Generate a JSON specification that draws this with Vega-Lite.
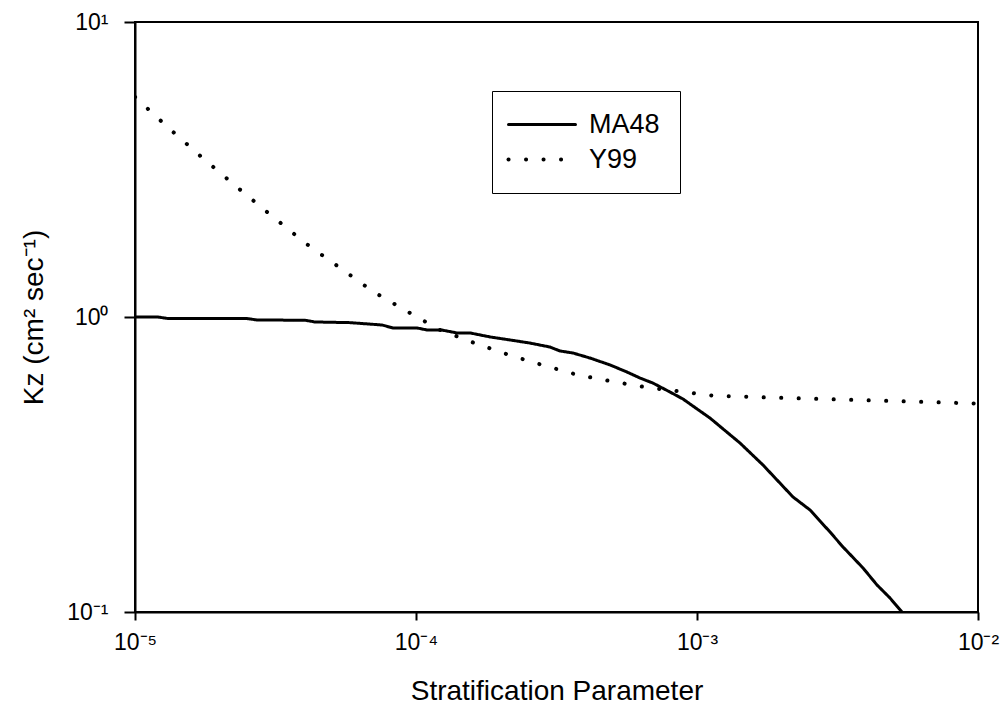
{
  "$schema": "https://vega.github.io/schema/vega-lite/v6.json",
  "width": 843,
  "height": 590,
  "autosize": "none",
  "padding": {"left": 135, "top": 22, "right": 26, "bottom": 101},
  "background": "white",
  "config": {
    "font": "Liberation Sans",
    "view": {"stroke": "black", "strokeWidth": 2},
    "axis": {
      "grid": false,
      "domainColor": "black",
      "domainWidth": 2,
      "tickColor": "black",
      "tickWidth": 2,
      "labelColor": "black",
      "labelFont": "Liberation Sans",
      "labelFontSize": 23,
      "titleColor": "black",
      "titleFont": "Liberation Sans",
      "titleFontSize": 28,
      "titleFontWeight": "normal",
      "labelFlush": false,
      "labelOverlap": false
    }
  },
  "data": {
    "values": [
      {"series": "MA48", "x": 1e-5, "y": 1.0},
      {"series": "MA48", "x": 1.208e-5, "y": 1.0},
      {"series": "MA48", "x": 1.31e-5, "y": 0.988},
      {"series": "MA48", "x": 2.504e-5, "y": 0.988},
      {"series": "MA48", "x": 2.72e-5, "y": 0.977},
      {"series": "MA48", "x": 4.03e-5, "y": 0.975},
      {"series": "MA48", "x": 4.37e-5, "y": 0.962},
      {"series": "MA48", "x": 5.82e-5, "y": 0.957},
      {"series": "MA48", "x": 7.57e-5, "y": 0.9395},
      {"series": "MA48", "x": 8.28e-5, "y": 0.918},
      {"series": "MA48", "x": 1.008e-4, "y": 0.918},
      {"series": "MA48", "x": 1.10e-4, "y": 0.903},
      {"series": "MA48", "x": 1.237e-4, "y": 0.903},
      {"series": "MA48", "x": 1.40e-4, "y": 0.883},
      {"series": "MA48", "x": 1.557e-4, "y": 0.883},
      {"series": "MA48", "x": 1.834e-4, "y": 0.856},
      {"series": "MA48", "x": 2.16e-4, "y": 0.836},
      {"series": "MA48", "x": 2.544e-4, "y": 0.816},
      {"series": "MA48", "x": 2.998e-4, "y": 0.791},
      {"series": "MA48", "x": 3.255e-4, "y": 0.767},
      {"series": "MA48", "x": 3.62e-4, "y": 0.755},
      {"series": "MA48", "x": 4.16e-4, "y": 0.726},
      {"series": "MA48", "x": 4.90e-4, "y": 0.688},
      {"series": "MA48", "x": 5.63e-4, "y": 0.651},
      {"series": "MA48", "x": 6.27e-4, "y": 0.621},
      {"series": "MA48", "x": 6.97e-4, "y": 0.597},
      {"series": "MA48", "x": 8.01e-4, "y": 0.557},
      {"series": "MA48", "x": 8.92e-4, "y": 0.527},
      {"series": "MA48", "x": 1.0e-3, "y": 0.488},
      {"series": "MA48", "x": 1.112e-3, "y": 0.4545},
      {"series": "MA48", "x": 1.422e-3, "y": 0.374},
      {"series": "MA48", "x": 1.717e-3, "y": 0.315},
      {"series": "MA48", "x": 2.196e-3, "y": 0.2454},
      {"series": "MA48", "x": 2.525e-3, "y": 0.2217},
      {"series": "MA48", "x": 2.974e-3, "y": 0.1867},
      {"series": "MA48", "x": 3.308e-3, "y": 0.1661},
      {"series": "MA48", "x": 3.898e-3, "y": 0.141},
      {"series": "MA48", "x": 4.37e-3, "y": 0.1235},
      {"series": "MA48", "x": 4.86e-3, "y": 0.1116},
      {"series": "MA48", "x": 5.36e-3, "y": 0.1},
      {"series": "Y99", "x": 1e-5, "y": 5.57},
      {"series": "Y99", "x": 1.321e-5, "y": 4.36},
      {"series": "Y99", "x": 1.746e-5, "y": 3.45},
      {"series": "Y99", "x": 2.31e-5, "y": 2.753},
      {"series": "Y99", "x": 3.05e-5, "y": 2.212},
      {"series": "Y99", "x": 4.05e-5, "y": 1.777},
      {"series": "Y99", "x": 5.33e-5, "y": 1.474},
      {"series": "Y99", "x": 7.05e-5, "y": 1.218},
      {"series": "Y99", "x": 9.34e-5, "y": 1.042},
      {"series": "Y99", "x": 1.217e-4, "y": 0.904},
      {"series": "Y99", "x": 1.626e-4, "y": 0.814},
      {"series": "Y99", "x": 2.157e-4, "y": 0.742},
      {"series": "Y99", "x": 2.838e-4, "y": 0.686},
      {"series": "Y99", "x": 3.75e-4, "y": 0.637},
      {"series": "Y99", "x": 4.97e-4, "y": 0.605},
      {"series": "Y99", "x": 6.57e-4, "y": 0.578},
      {"series": "Y99", "x": 8.70e-4, "y": 0.559},
      {"series": "Y99", "x": 1.143e-3, "y": 0.541},
      {"series": "Y99", "x": 1.736e-3, "y": 0.534},
      {"series": "Y99", "x": 3.03e-3, "y": 0.526},
      {"series": "Y99", "x": 5.35e-3, "y": 0.518},
      {"series": "Y99", "x": 1e-2, "y": 0.509}
    ]
  },
  "encoding": {
    "x": {
      "field": "x",
      "type": "quantitative",
      "scale": {"type": "log", "domain": [1e-5, 1e-2], "nice": false},
      "axis": {
        "values": [1e-5, 1e-4, 1e-3, 1e-2],
        "labelExpr": "datum.value < 5e-5 ? '10⁻⁵' : datum.value < 5e-4 ? '10⁻⁴' : datum.value < 5e-3 ? '10⁻³' : '10⁻²'",
        "tickSize": 8,
        "labelPadding": 11,
        "title": "Stratification Parameter",
        "titlePadding": 23
      }
    },
    "y": {
      "field": "y",
      "type": "quantitative",
      "scale": {"type": "log", "domain": [0.1, 10], "nice": false},
      "axis": {
        "values": [0.1, 1, 10],
        "labelExpr": "datum.value < 0.5 ? '10⁻¹' : datum.value < 5 ? '10⁰' : '10¹'",
        "tickSize": 11,
        "labelPadding": 16,
        "title": "Kᴢ (cm² sec⁻¹)",
        "titlePadding": 18
      }
    },
    "strokeDash": {
      "field": "series",
      "type": "nominal",
      "scale": {"domain": ["MA48", "Y99"], "range": [[1, 0], [0.1, 17.4]]},
      "legend": {
        "title": null,
        "orient": "none",
        "legendX": 357,
        "legendY": 69,
        "padding": 20,
        "strokeColor": "black",
        "fillColor": "white",
        "symbolType": "M-1.7,0H5.0",
        "symbolSize": 400,
        "symbolStrokeWidth": 3.5,
        "symbolStrokeColor": "black",
        "labelOffset": 50,
        "labelFontSize": 27,
        "labelFont": "Liberation Sans",
        "labelColor": "black",
        "rowPadding": 7,
        "symbolOffset": 0,
        "encode": {
          "symbols": {
            "update": {
              "strokeCap": {"value": "round"},
              "strokeWidth": {"signal": "datum.value == 'Y99' ? 4 : 3"}
            }
          }
        }
      }
    }
  },
  "layer": [
    {
      "transform": [{"filter": "datum.series == 'MA48'"}],
      "mark": {"type": "line", "color": "black", "strokeWidth": 3, "clip": true}
    },
    {
      "transform": [{"filter": "datum.series == 'Y99'"}],
      "mark": {"type": "line", "color": "black", "strokeWidth": 4, "strokeCap": "round", "clip": true}
    }
  ]
}
